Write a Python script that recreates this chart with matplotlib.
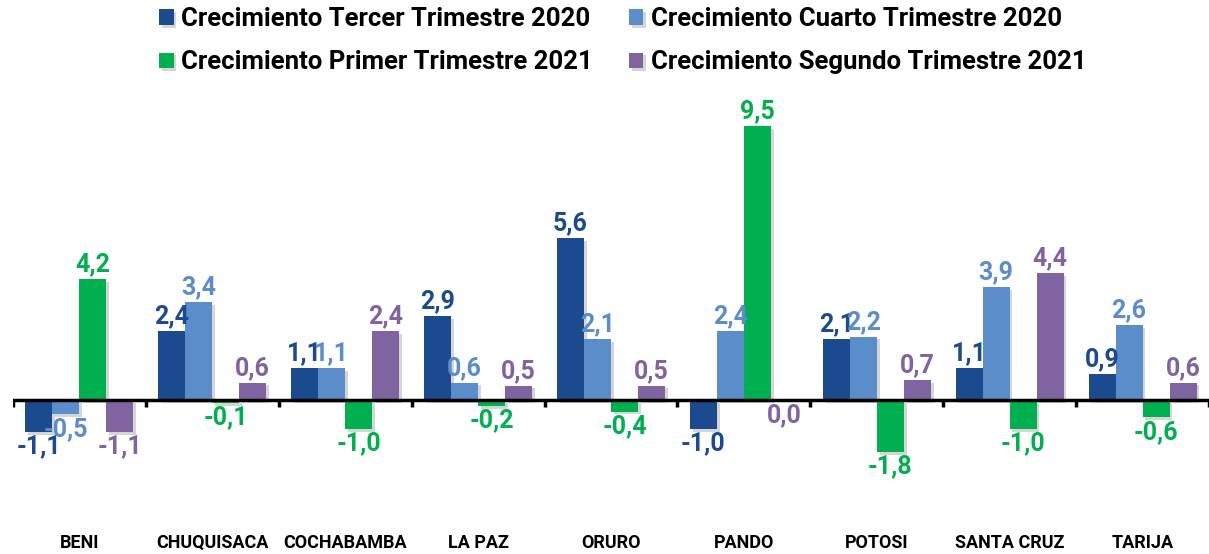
import numpy as np
import matplotlib.pyplot as plt
import matplotlib.patheffects as pe

plt.rcParams['font.family'] = ['Roboto', 'DejaVu Sans']

departamentos = ['BENI', 'CHUQUISACA', 'COCHABAMBA', 'LA PAZ', 'ORURO',
                 'PANDO', 'POTOSI', 'SANTA CRUZ', 'TARIJA']

tercer_2020 = [-1.1, 2.4, 1.1, 2.9, 5.6, -1.0, 2.1, 1.1, 0.9]
cuarto_2020 = [-0.5, 3.4, 1.1, 0.6, 2.1, 2.4, 2.2, 3.9, 2.6]
primer_2021 = [4.2, -0.1, -1.0, -0.2, -0.4, 9.5, -1.8, -1.0, -0.6]
segundo_2021 = [-1.1, 0.6, 2.4, 0.5, 0.5, 0.0, 0.7, 4.4, 0.6]

series = [
    ('Crecimiento Tercer Trimestre 2020', tercer_2020, '#1B4A8F'),
    ('Crecimiento Cuarto Trimestre 2020', cuarto_2020, '#5A8DCA'),
    ('Crecimiento Primer Trimestre 2021', primer_2021, '#00B050'),
    ('Crecimiento Segundo Trimestre 2021', segundo_2021, '#8064A2'),
]

W, H = 1209, 554
fig = plt.figure(figsize=(W / 100, H / 100), dpi=100)
ax = fig.add_axes([13 / W, (H - 470) / H, 1196 / W, 380 / H])

x = np.arange(len(departamentos))
width = 0.203
shadow = [pe.SimplePatchShadow(offset=(2, -2), shadow_rgbFace='#888888', alpha=0.35),
          pe.Normal()]

bars = {}
for i, (name, vals, color) in enumerate(series):
    pos = x + (i - 1.5) * width
    b = ax.bar(pos, vals, width, color=color, label=name, zorder=2)
    for patch in b:
        patch.set_path_effects(shadow)
    bars[name] = b
    for xp, v in zip(pos, vals):
        txt = f'{v:.1f}'.replace('.', ',')
        if v > 0:
            ax.annotate(txt, (xp, v), xytext=(0, 2), textcoords='offset points',
                        ha='center', va='bottom', fontsize=18, fontweight='bold',
                        color=color, zorder=4)
        else:
            ax.annotate(txt, (xp, v), xytext=(0, -2), textcoords='offset points',
                        ha='center', va='top', fontsize=18, fontweight='bold',
                        color=color, zorder=4)

# zero line with small ticks between groups
ax.axhline(0, color='black', lw=2.5, zorder=3)
bounds = np.arange(len(departamentos) + 1) - 0.5
ax.vlines(bounds, -0.25, 0, color='black', lw=2.5, zorder=3)

ax.set_xlim(-0.5, len(departamentos) - 0.5)
ax.set_ylim(-2.426, 10.745)
ax.axis('off')

for xi, name in zip(x, departamentos):
    ax.text(xi, -4.95, name, ha='center', va='center', fontsize=13,
            fontweight='bold', color='black')

handles = [bars[series[0][0]], bars[series[2][0]], bars[series[1][0]], bars[series[3][0]]]
labels = [series[0][0], series[2][0], series[1][0], series[3][0]]
fig.legend(handles, labels, loc='upper left', bbox_to_anchor=(144 / W, 1.015),
           ncol=2, frameon=False, prop={'weight': 'bold', 'size': 18.5},
           handlelength=0.55, handleheight=0.55, handletextpad=0.3,
           columnspacing=1.4, labelspacing=0.75, borderaxespad=0.2)

fig.savefig('out.png', dpi=100)
